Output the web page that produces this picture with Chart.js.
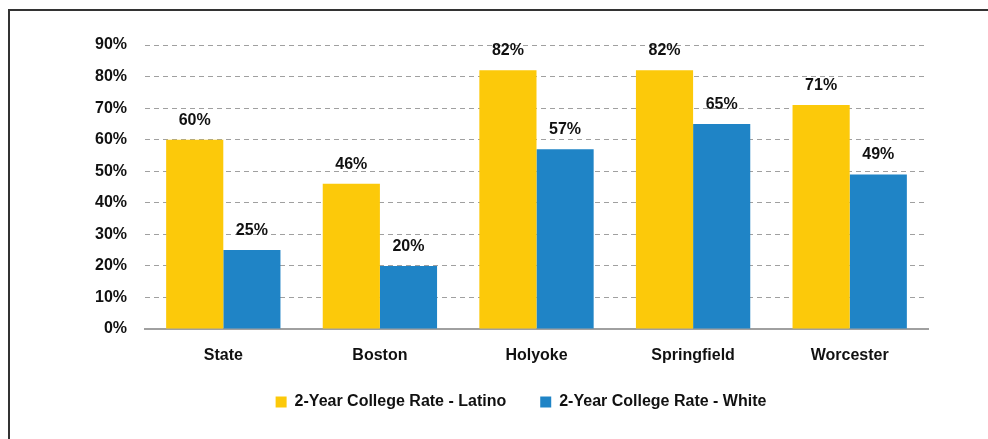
<!DOCTYPE html>
<html>
<head>
<meta charset="utf-8">
<script src="https://cdn.jsdelivr.net/npm/chart.js@4"></script>
<style>
  body { margin: 0; background: #fff; }
  #wrap { position: relative; width: 988px; height: 439px; }
</style>
</head>
<body>
<div id="wrap"><canvas id="myChart" width="988" height="439"></canvas></div>
<script>
const categories = ["State", "Boston", "Holyoke", "Springfield", "Worcester"];
const latinoRate = [60, 46, 82, 82, 71];
const whiteRate = [25, 20, 57, 65, 49];
const yTicks = [0, 10, 20, 30, 40, 50, 60, 70, 80, 90];

const FONT = "'Liberation Sans', Arial, sans-serif";
const LEG_PAD = 34;

// frame, legend placement, value labels above bars
const extras = {
  id: "extras",
  afterLayout(chart) {
    const lg = chart.legend;
    const h = lg.height;
    lg.left = 114;
    lg.right = 928;
    lg.width = lg.right - lg.left;
    lg.top = 402 - LEG_PAD - 8;
    lg.bottom = lg.top + h;
  },
  beforeDraw(chart) {
    const ctx = chart.ctx;
    ctx.save();
    ctx.strokeStyle = "#333";
    ctx.lineWidth = 2;
    ctx.beginPath();
    ctx.moveTo(9, 439);
    ctx.lineTo(9, 10);
    ctx.lineTo(988, 10);
    ctx.stroke();
    ctx.restore();
  },
  afterDatasetsDraw(chart) {
    const ctx = chart.ctx;
    ctx.save();
    ctx.font = "bold 16px " + FONT;
    ctx.fillStyle = "#111";
    ctx.textAlign = "center";
    ctx.textBaseline = "alphabetic";
    chart.data.datasets.forEach((ds, i) => {
      chart.getDatasetMeta(i).data.forEach((bar, j) => {
        ctx.fillText(ds.data[j] + "%", bar.x, bar.y - 15);
      });
    });
    ctx.restore();
  }
};

new Chart(document.getElementById("myChart").getContext("2d"), {
  type: "bar",
  data: {
    labels: categories,
    datasets: [
      {
        label: "2-Year College Rate - Latino",
        data: latinoRate,
        backgroundColor: "#FCC90A",
        categoryPercentage: 0.73,
        barPercentage: 1
      },
      {
        label: "2-Year College Rate - White",
        data: whiteRate,
        backgroundColor: "#1F84C6",
        categoryPercentage: 0.73,
        barPercentage: 1
      }
    ]
  },
  options: {
    responsive: false,
    animation: false,
    layout: { padding: { top: 45, right: 60, left: 0, bottom: 5 } },
    plugins: {
      tooltip: { enabled: false },
      legend: {
        position: "bottom",
        labels: {
          boxWidth: 11,
          boxHeight: 11,
          padding: LEG_PAD,
          color: "#111",
          font: { family: FONT, size: 16, weight: "bold" }
        }
      }
    },
    scales: {
      x: {
        grid: { display: false },
        border: { display: true, color: "#a0a0a0", width: 2 },
        ticks: { color: "#111", padding: 9, font: { family: FONT, size: 16, weight: "bold" } },
        afterFit(scale) { scale.height = 45; }
      },
      y: {
        min: 0,
        max: 90,
        afterBuildTicks(scale) { scale.ticks = yTicks.map(v => ({ value: v })); },
        grid: { color: "#a0a0a0", lineWidth: 1, drawTicks: false },
        border: { display: false, dash: [5, 4] },
        ticks: {
          color: "#111",
          padding: 18,
          font: { family: FONT, size: 16, weight: "bold" },
          callback: v => v + "%"
        },
        afterFit(scale) { scale.width = 145; }
      }
    }
  },
  plugins: [extras]
});
</script>
</body>
</html>
